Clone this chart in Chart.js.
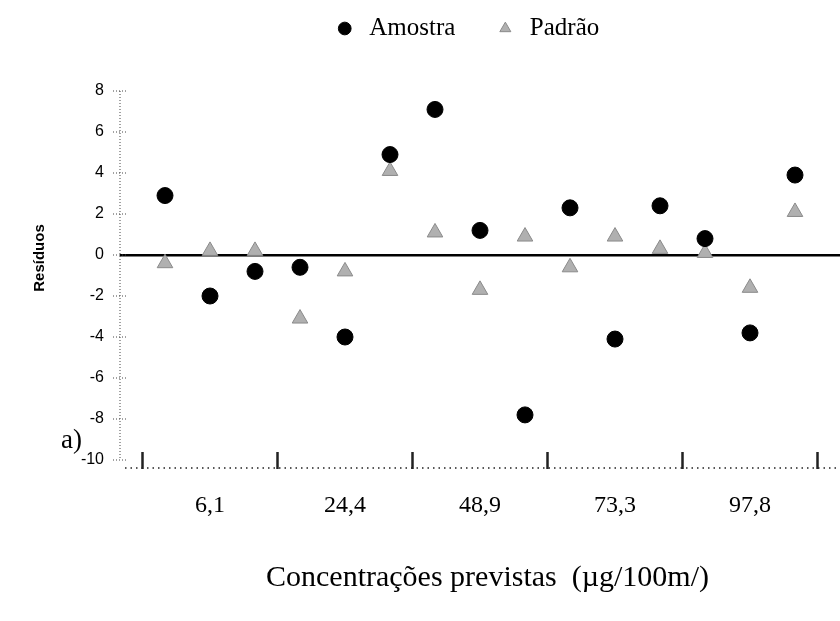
<!DOCTYPE html>
<html lang="pt">
<head>
<meta charset="utf-8">
<style>
  html, body { margin: 0; padding: 0; background: #fff; }
</style>
<script src="https://cdn.jsdelivr.net/npm/chart.js@4.4.1/dist/chart.umd.min.js"></script>
</head>
<body>
<canvas id="residuos" width="840" height="621"></canvas>
<script>
// residuos por ponto (15 pontos, 3 por nivel de concentracao)
const amostra = [2.9, -2.0, -0.8, -0.6, -4.0, 4.9, 7.1, 1.2, -7.8, 2.3, -4.1, 2.4, 0.8, -3.8, 3.9];
const padrao = [-0.4, 0.2, 0.2, -3.1, -0.8, 4.1, 1.1, -1.7, 0.9, -0.6, 0.9, 0.3, 0.1, -1.6, 2.1];

const groupLabels = ["6,1", "24,4", "48,9", "73,3", "97,8"];
const groupCenters = [1, 4, 7, 10, 13];
const groupEdges = [-0.5, 2.5, 5.5, 8.5, 11.5, 14.5];
const yTicks = [-10, -8, -6, -4, -2, 0, 2, 4, 6, 8];

const toPoints = (values) => values.map((v, i) => ({ x: i, y: v }));

const serif = "'Liberation Serif', 'Times New Roman', serif";
const sans = "'Liberation Sans', Arial, sans-serif";

// eixos pontilhados, marcas dos grupos, titulo do eixo y e rotulo "a)"
const decor = {
  id: "decor",
  afterLayout(chart) {
    const lg = chart.legend;
    if (!lg) return;
    lg.left += 46;
    lg.right += 46;
    lg.top -= 40;
    lg.bottom -= 40;
  },
  beforeDatasetsDraw(chart) {
    const { ctx } = chart;
    const y = chart.scales.y;
    const x0 = chart.chartArea.left;
    ctx.save();
    ctx.strokeStyle = "#444";
    ctx.lineWidth = 1;
    ctx.setLineDash([1, 2]);
    ctx.beginPath();
    ctx.moveTo(x0, y.getPixelForValue(yTicks[yTicks.length - 1]));
    ctx.lineTo(x0, y.getPixelForValue(yTicks[0]));
    ctx.stroke();
    yTicks.forEach((v) => {
      const py = y.getPixelForValue(v);
      ctx.beginPath();
      ctx.moveTo(x0 - 7, py);
      ctx.lineTo(x0 + 6, py);
      ctx.stroke();
    });
    ctx.restore();
  },
  afterDraw(chart) {
    const { ctx, chartArea } = chart;
    const x = chart.scales.x;
    const yBase = chartArea.bottom + 8;
    ctx.save();
    ctx.strokeStyle = "#222";
    ctx.lineWidth = 1.5;
    ctx.setLineDash([1.5, 4]);
    ctx.beginPath();
    ctx.moveTo(x.left + 5, yBase);
    ctx.lineTo(x.right, yBase);
    ctx.stroke();
    ctx.setLineDash([]);
    ctx.lineWidth = 2.5;
    groupEdges.forEach((v) => {
      const px = x.getPixelForValue(v);
      ctx.beginPath();
      ctx.moveTo(px, yBase - 16);
      ctx.lineTo(px, yBase + 1);
      ctx.stroke();
    });

    ctx.fillStyle = "#000";
    ctx.font = "27px " + serif;
    ctx.textAlign = "left";
    ctx.textBaseline = "middle";
    ctx.fillText("a)", 61, 441);

    ctx.translate(40, 258);
    ctx.rotate(-Math.PI / 2);
    ctx.font = "bold 15px " + sans;
    ctx.textAlign = "center";
    ctx.fillText("Resíduos", 0, 0);
    ctx.restore();
  },
};

new Chart(document.getElementById("residuos"), {
  type: "scatter",
  data: {
    datasets: [
      {
        label: "Amostra",
        data: toPoints(amostra),
        pointStyle: "circle",
        pointRadius: 8,
        backgroundColor: "#000",
        borderColor: "#000",
        borderWidth: 1,
      },
      {
        label: "Padrão",
        data: toPoints(padrao),
        pointStyle: "triangle",
        pointRadius: 9,
        backgroundColor: "#b0b0b0",
        borderColor: "#8a8a8a",
        borderWidth: 1,
      },
    ],
  },
  options: {
    responsive: false,
    animation: false,
    devicePixelRatio: 1,
    layout: { autoPadding: false, padding: { top: 18, left: 0, right: 0, bottom: 0 } },
    plugins: {
      legend: {
        position: "top",
        labels: {
          usePointStyle: true,
          boxWidth: 24,
          boxHeight: 9,
          padding: 38,
          color: "#000",
          font: { family: serif, size: 25 },
        },
      },
      tooltip: { enabled: false },
    },
    scales: {
      x: {
        type: "linear",
        min: -1,
        max: 15,
        afterBuildTicks: (s) => {
          s.ticks = groupCenters.map((v) => ({ value: v }));
        },
        afterFit: (s) => {
          s.height = 161;
          s.paddingLeft = 0;
          s.paddingRight = 0;
        },
        ticks: {
          autoSkip: false,
          maxRotation: 0,
          padding: 31,
          color: "#000",
          font: { family: serif, size: 24 },
          callback: (v) => {
            const i = groupCenters.indexOf(v);
            return i >= 0 ? groupLabels[i] : "";
          },
        },
        grid: { display: false, drawTicks: false },
        border: { display: false },
        title: {
          display: true,
          text: "  Concentrações previstas  (µg/100m/)",
          color: "#000",
          font: { family: serif, size: 30 },
          padding: { top: 0, bottom: 25 },
        },
      },
      y: {
        min: -10,
        max: 8,
        afterBuildTicks: (s) => {
          s.ticks = yTicks.map((v) => ({ value: v }));
        },
        afterFit: (s) => {
          s.width = 120;
        },
        ticks: {
          padding: 16,
          color: "#000",
          font: { family: sans, size: 16 },
        },
        grid: {
          color: (c) => (c.tick && c.tick.value === 0 ? "#000" : "rgba(0,0,0,0)"),
          lineWidth: (c) => (c.tick && c.tick.value === 0 ? 2.5 : 1),
          drawTicks: false,
        },
        border: { display: false, dash: [] },
        title: { display: false },
      },
    },
  },
  plugins: [decor],
});
</script>
</body>
</html>
